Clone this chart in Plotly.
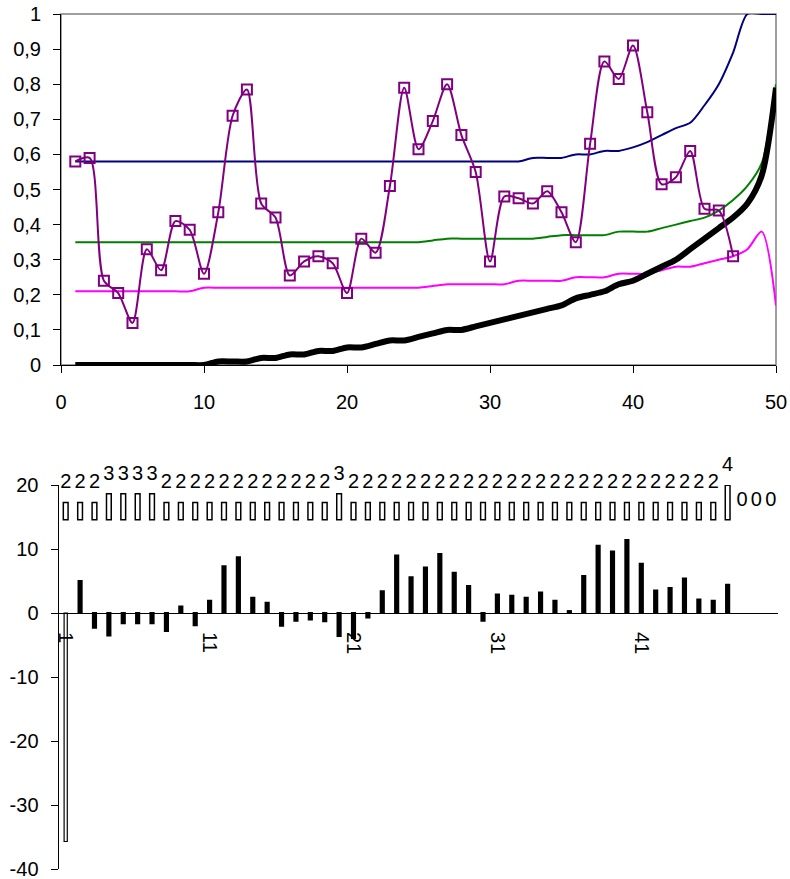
import plotly.graph_objects as go

# ---------------- data: top chart ----------------
x_top = list(range(1, 51))
x_purple = list(range(1, 48))
purple = [0.58, 0.59, 0.24, 0.205, 0.12, 0.33, 0.27, 0.41, 0.385, 0.26,
          0.435, 0.71, 0.785, 0.46, 0.42, 0.255, 0.295, 0.31, 0.29, 0.205,
          0.36, 0.32, 0.51, 0.79, 0.615, 0.695, 0.80, 0.655, 0.55, 0.295,
          0.48, 0.475, 0.46, 0.495, 0.435, 0.35, 0.63, 0.865, 0.815, 0.91,
          0.72, 0.515, 0.535, 0.61, 0.445, 0.44, 0.31]
navy = [0.58, 0.58, 0.58, 0.58, 0.58, 0.58, 0.58, 0.58, 0.58, 0.58,
        0.58, 0.58, 0.58, 0.58, 0.58, 0.58, 0.58, 0.58, 0.58, 0.58,
        0.58, 0.58, 0.58, 0.58, 0.58, 0.58, 0.58, 0.58, 0.58, 0.58,
        0.58, 0.58, 0.59, 0.59, 0.59, 0.60, 0.60, 0.61, 0.61, 0.62,
        0.635, 0.655, 0.675, 0.69, 0.74, 0.80, 0.89, 1.0, 1.0, 1.0]
green = [0.35, 0.35, 0.35, 0.35, 0.35, 0.35, 0.35, 0.35, 0.35, 0.35,
         0.35, 0.35, 0.35, 0.35, 0.35, 0.35, 0.35, 0.35, 0.35, 0.35,
         0.35, 0.35, 0.35, 0.35, 0.35, 0.355, 0.36, 0.36, 0.36, 0.36,
         0.36, 0.36, 0.36, 0.365, 0.37, 0.37, 0.37, 0.37, 0.38, 0.38,
         0.38, 0.39, 0.40, 0.41, 0.42, 0.44, 0.47, 0.51, 0.575, 0.80]
magenta = [0.21, 0.21, 0.21, 0.21, 0.21, 0.21, 0.21, 0.21, 0.21, 0.22,
           0.22, 0.22, 0.22, 0.22, 0.22, 0.22, 0.22, 0.22, 0.22, 0.22,
           0.22, 0.22, 0.22, 0.22, 0.22, 0.225, 0.23, 0.23, 0.23, 0.23,
           0.23, 0.24, 0.24, 0.24, 0.24, 0.25, 0.25, 0.25, 0.26, 0.26,
           0.26, 0.27, 0.28, 0.28, 0.29, 0.30, 0.31, 0.33, 0.38, 0.17]
black = [0.0, 0.0, 0.0, 0.0, 0.0, 0.0, 0.0, 0.0, 0.0, 0.0,
         0.01, 0.01, 0.01, 0.02, 0.02, 0.03, 0.03, 0.04, 0.04, 0.05,
         0.05, 0.06, 0.07, 0.07, 0.08, 0.09, 0.10, 0.10, 0.11, 0.12,
         0.13, 0.14, 0.15, 0.16, 0.17, 0.19, 0.20, 0.21, 0.23, 0.24,
         0.26, 0.28, 0.30, 0.33, 0.36, 0.39, 0.42, 0.46, 0.54, 0.79]

# ---------------- data: bottom chart ----------------
cats = list(range(1, 51))
bar_vals = [-35.7, 5.0, -2.3, -3.5, -1.6, -1.6, -1.6, -2.8, 1.0, -1.9,
            1.9, 7.3, 8.7, 2.4, 1.6, -2.0, -1.2, -1.0, -1.3, -3.6,
            -3.9, -0.7, 3.4, 9.0, 5.6, 7.1, 9.2, 6.3, 4.2, -1.2,
            2.9, 2.7, 2.4, 3.2, 1.9, 0.3, 5.8, 10.5, 9.6, 11.4,
            7.7, 3.5, 3.9, 5.4, 2.1, 1.9, 4.4, None, None, None]
count_vals = [2, 2, 2, 3, 3, 3, 3, 2, 2, 2,
              2, 2, 2, 2, 2, 2, 2, 2, 2, 3,
              2, 2, 2, 2, 2, 2, 2, 2, 2, 2,
              2, 2, 2, 2, 2, 2, 2, 2, 2, 2,
              2, 2, 2, 2, 2, 2, 4, 0, 0, 0]
cat_tick_labels = [1, 11, 21, 31, 41]
cat_tick_marks = [9.5, 18.5, 27.5, 36.5, 45.5]
bot_y_ticks = [-40, -30, -20, -10, 0, 10, 20]
bot_y_ticktext = ["-40", "-30", "-20", "-10", "0", "10", "20"]

FONT = "Liberation Sans, Arial, sans-serif"
W, H = 790, 879

# layout geometry (paper fractions)
top_x = [61 / W, 776 / W]
top_y = [1 - 365 / H, 1 - 14 / H]
bot_x = [58.5 / W, 778 / W]
bot_y = [1 - 869 / H, 1 - 485 / H]
bot_range = [-40, 20]
zero_pos = bot_y[0] + (0 - bot_range[0]) / (bot_range[1] - bot_range[0]) * (bot_y[1] - bot_y[0])

fig = go.Figure()

# ---- top chart traces ----
fig.add_trace(go.Scatter(x=x_top, y=navy, mode="lines", line=dict(color="#000080", width=2, shape="spline", smoothing=0.8),
                         xaxis="x", yaxis="y", showlegend=False))
fig.add_trace(go.Scatter(x=x_top, y=green, mode="lines", line=dict(color="#008000", width=2, shape="spline", smoothing=0.8),
                         xaxis="x", yaxis="y", showlegend=False))
fig.add_trace(go.Scatter(x=x_top, y=magenta, mode="lines", line=dict(color="#FF00FF", width=2, shape="spline", smoothing=0.8),
                         xaxis="x", yaxis="y", showlegend=False))
fig.add_trace(go.Scatter(x=x_top, y=black, mode="lines", line=dict(color="#000000", width=6, shape="spline", smoothing=0.8),
                         xaxis="x", yaxis="y", showlegend=False))
fig.add_trace(go.Scatter(x=x_purple, y=purple, mode="lines+markers",
                         line=dict(color="#800080", width=2, shape="spline", smoothing=0.8),
                         marker=dict(symbol="square-open", size=10, color="#800080", line=dict(width=2, color="#800080")),
                         xaxis="x", yaxis="y", showlegend=False, cliponaxis=False))

# ---- bottom chart traces ----
bar_colors = ["white"] + ["black"] * 49
bar_line_w = [1.2] + [2] * 49
fig.add_trace(go.Bar(x=cats, y=bar_vals, width=0.22,
                     marker=dict(color=bar_colors, line=dict(color="black", width=bar_line_w)),
                     xaxis="x2", yaxis="y2", showlegend=False))
count_line_w = [1.5 if v else 0 for v in count_vals]
fig.add_trace(go.Bar(x=cats, y=count_vals, width=0.33,
                     marker=dict(color="white", line=dict(color="black", width=count_line_w)),
                     xaxis="x2", yaxis="y3", showlegend=False))
fig.add_trace(go.Scatter(x=cats, y=count_vals, mode="markers+text",
                         text=[str(v) for v in count_vals], textposition="top center",
                         textfont=dict(family=FONT, size=20, color="black"),
                         marker=dict(size=13, color="rgba(0,0,0,0)"),
                         xaxis="x2", yaxis="y3", showlegend=False, cliponaxis=False))

axis_font = dict(family=FONT, size=20, color="black")

fig.update_layout(
    width=W, height=H,
    margin=dict(l=0, r=0, t=0, b=0, autoexpand=False),
    paper_bgcolor="white", plot_bgcolor="white",
    separators=", ",
    barmode="overlay",
    font=axis_font,
    # top chart
    xaxis=dict(domain=top_x, anchor="y", range=[0, 50], dtick=10, tick0=0, automargin=False,
               showgrid=False, zeroline=False, showline=True, linecolor="black", linewidth=1,
               ticks="outside", ticklen=7, tickcolor="black", tickfont=axis_font, ticklabelstandoff=12,
               ticklabeloverflow="allow"),
    yaxis=dict(domain=top_y, anchor="x", range=[0, 1], dtick=0.1, tick0=0, automargin=False,
               showgrid=False, zeroline=False, showline=True, linecolor="black", linewidth=1,
               ticks="outside", ticklen=7, tickcolor="black", tickfont=axis_font, ticklabelstandoff=8,
               ticklabeloverflow="allow"),
    # bottom chart: category label axis
    xaxis2=dict(domain=bot_x, anchor="free", position=zero_pos, range=[0.5, 50.5], automargin=False,
                tickmode="array", tickvals=cat_tick_labels, ticktext=[str(v) for v in cat_tick_labels],
                tickangle=90, ticks="", showgrid=False, zeroline=False,
                showline=True, linecolor="black", linewidth=1, tickfont=axis_font, ticklabelstandoff=14,
                ticklabeloverflow="allow"),
    xaxis3=dict(domain=bot_x, anchor="free", position=zero_pos, overlaying="x2", range=[0.5, 50.5], automargin=False,
                tickmode="array", tickvals=cat_tick_marks, ticks="outside", ticklen=6, tickcolor="black",
                showticklabels=False, showgrid=False, zeroline=False, showline=False),
    xaxis4=dict(domain=bot_x, anchor="free", position=zero_pos, overlaying="x2", range=[0.5, 50.5], automargin=False,
                tickmode="array", tickvals=cat_tick_marks, ticks="inside", ticklen=6, tickcolor="black",
                showticklabels=False, showgrid=False, zeroline=False, showline=False),
    yaxis2=dict(domain=bot_y, anchor="x2", range=bot_range, automargin=False,
                tickmode="array", tickvals=bot_y_ticks, ticktext=bot_y_ticktext,
                showgrid=False, zeroline=False, showline=True, linecolor="black", linewidth=1,
                ticks="outside", ticklen=7, tickcolor="black", tickfont=axis_font, ticklabelstandoff=8,
                ticklabeloverflow="allow"),
    yaxis3=dict(domain=bot_y, anchor="x2", overlaying="y2", range=[-40.3, 4.02], visible=False, automargin=False),
    yaxis4=dict(domain=bot_y, anchor="x2", overlaying="y2", range=bot_range, automargin=False,
                tickmode="array", tickvals=bot_y_ticks,
                ticks="inside", ticklen=6, tickcolor="black", showticklabels=False,
                showgrid=False, zeroline=False, showline=False),
    shapes=[dict(type="rect", xref="x domain", yref="y domain", x0=0, x1=1, y0=0, y1=1,
                 line=dict(color="#808080", width=1.5), layer="below")],
)

fig.write_html("out.html",
               config={"displayModeBar": False},
               post_script="document.body.style.margin='0px'; document.body.style.overflow='hidden';")
